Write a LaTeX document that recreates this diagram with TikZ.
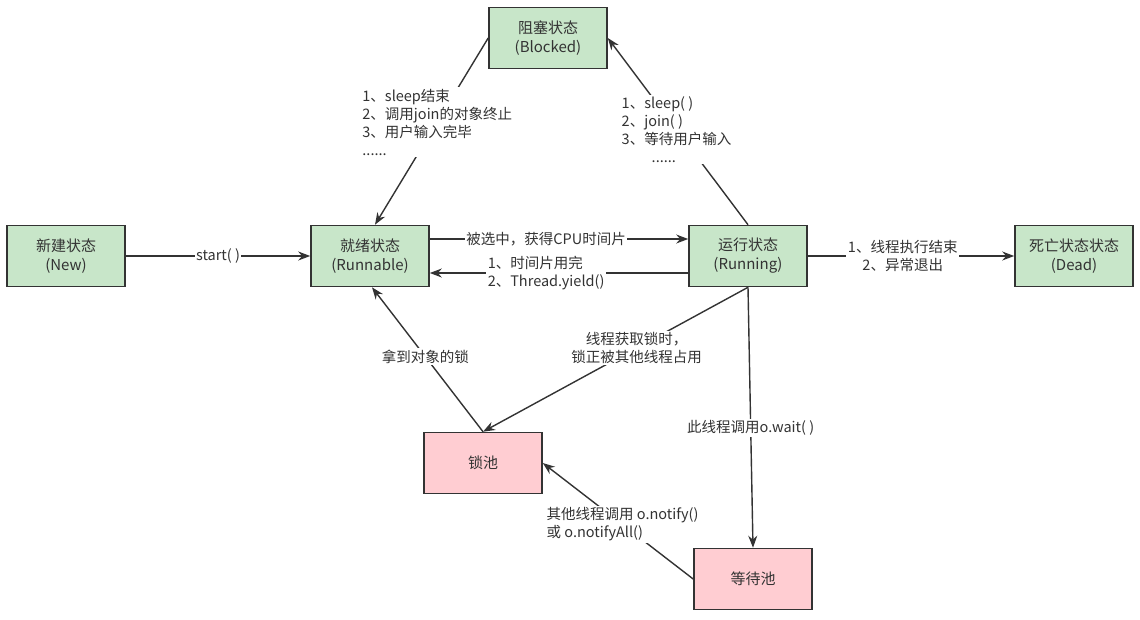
\documentclass[tikz,border=0pt]{standalone}
\usepackage{fontspec}
\setmainfont{Noto Sans CJK SC}
\usetikzlibrary{arrows.meta, positioning}
\definecolor{stategreen}{RGB}{200,230,201}
\definecolor{poolpink}{RGB}{255,205,210}
\definecolor{linegray}{RGB}{51,51,51}

\begin{document}
\begin{tikzpicture}[
    x=1pt, y=-1pt,
    >={Stealth[length=12pt, width=9pt]},
    font=\fontsize{15}{19}\selectfont,
    state/.style={rectangle, draw=linegray, fill=stategreen, line width=1.6pt, minimum width=118pt, minimum height=61pt, align=center, text=linegray},
    pool/.style={state, fill=poolpink},
    trans/.style={->, draw=linegray, line width=1.4pt},
    lbl/.style={fill=white, inner sep=1.5pt, text=linegray, font=\fontsize{14.5}{18}\selectfont}
]
\useasboundingbox (0,0) rectangle (1140,619);

% States
\node[state] (new) at (66,256) {新建状态\\(New)};
\node[state] (runnable) at (370,256) {就绪状态\\(Runnable)};
\node[state] (running) at (748,256) {运行状态\\(Running)};
\node[state] (dead) at (1074,256) {死亡状态状态\\(Dead)};
\node[state] (blocked) at (548,38) {阻塞状态\\(Blocked)};

% Pools
\node[pool] (lockpool) at (483,463) {锁池};
\node[pool] (waitpool) at (753,579) {等待池};

% Main line
\draw[trans] (new) -- node[lbl] (lstart) {start( )} (runnable);
\draw[trans] ([yshift=17pt]runnable.east) -- node[lbl, pos=0.45] (lselect) {被选中，获得CPU时间片} ([yshift=17pt]running.west);
\draw[trans] ([yshift=-17pt]running.west) -- node[lbl, pos=0.55, align=left] (lyield) {1、时间片用完\\2、Thread.yield()} ([yshift=-17pt]runnable.east);
\draw[trans] (running) -- node[lbl, pos=0.46, align=center] (lend) {1、线程执行结束\\2、异常退出} (dead);

% Blocked
\draw[trans] (running.north) -- node[lbl, pos=0.51, align=left] (lsleep) {1、sleep( )\\2、join( )\\3、等待用户输入\\\hspace{30pt}......} (blocked.east);
\draw[trans] (blocked.west) -- node[lbl, pos=0.45, align=left] (lwake) {1、sleep结束\\2、调用join的对象终止\\3、用户输入完毕\\......} ([xshift=5pt]runnable.north);

% Pools
\draw[trans] (running.south) -- node[lbl, pos=0.42, align=center] (llock) {线程获取锁时，\\锁正被其他线程占用} (lockpool.north);
\draw[trans] (lockpool.north) -- node[lbl, pos=0.52] (lgot) {拿到对象的锁} ([xshift=2pt]runnable.south);
\draw[trans] (running.south) -- node[lbl, pos=0.54] (lwait) {此线程调用o.wait( )} (waitpool.north);
\draw[trans] (waitpool.west) -- node[lbl, pos=0.47, align=left] (lnotify) {其他线程调用 o.notify()\\或 o.notifyAll()} (lockpool.east);

\end{tikzpicture}
\end{document}
